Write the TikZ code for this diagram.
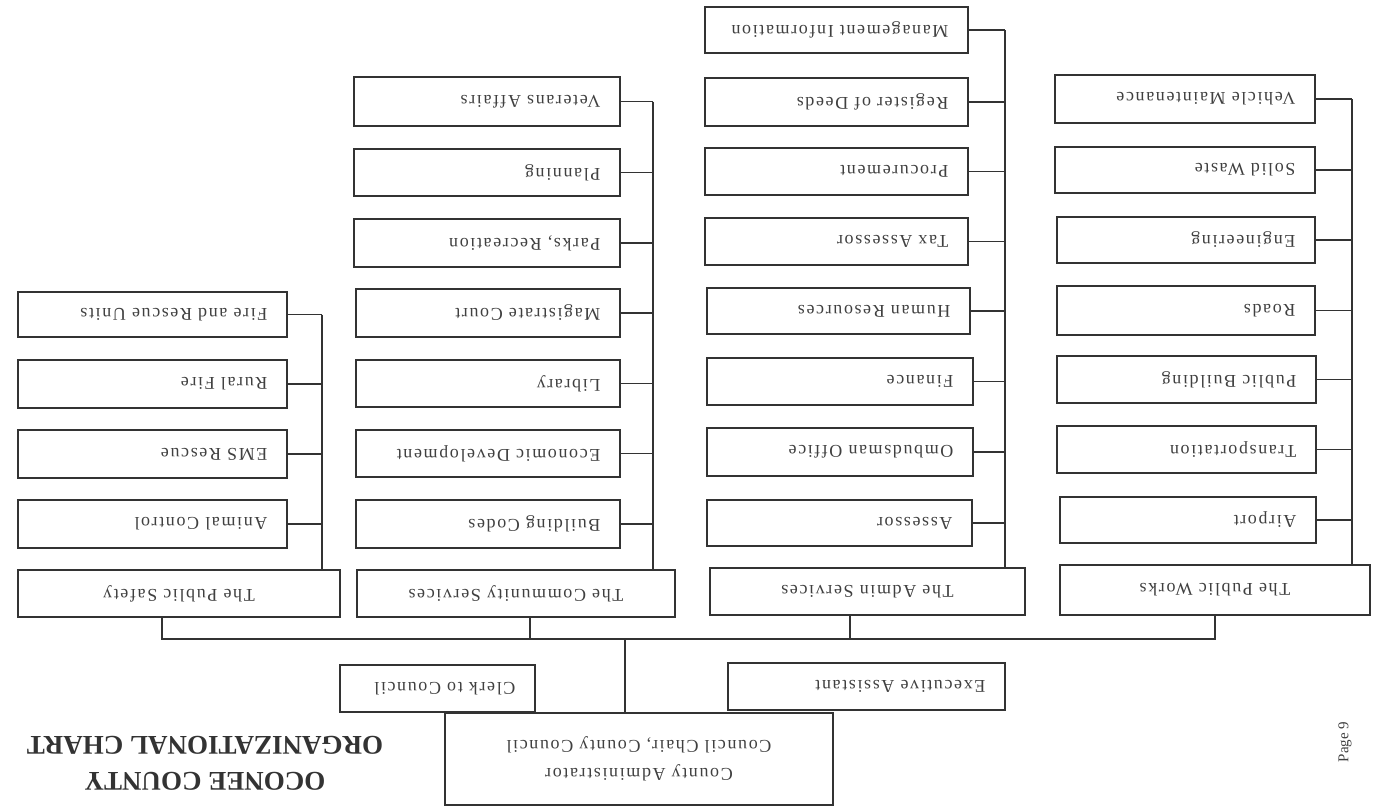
\documentclass[tikz,border=0pt]{standalone}
\usepackage{fontspec}
\setmainfont{Liberation Serif}
\newfontfamily\spaced[LetterSpace=9]{Liberation Serif}
\begin{document}
\begin{tikzpicture}[x=1pt,y=-1pt,
  box/.style={draw=black!80, line width=1.3pt, fill=white, inner sep=0pt},
  lbl/.style={rotate=180, font=\spaced\fontsize{18}{20}\selectfont, text=black!75, inner sep=0pt},
  wire/.style={draw=black!80, line width=1.2pt}]
\useasboundingbox (0,0) rectangle (1377,811);
% helper: child box with right-aligned (rotated) label
\newcommand{\cbx}[6]{%
  \node[box, minimum width={#4-#2}, minimum height={#5-#3}] (#1) at ({(#2+#4)/2},{(#3+#5)/2}) {};
  \node[lbl, anchor=west] (#1t) at ([xshift=-20pt]#1.east) {#6};}
\newcommand{\dbx}[6]{%
  \node[box, minimum width={#4-#2}, minimum height={#5-#3}] (#1) at ({(#2+#4)/2},{(#3+#5)/2}) {};
  \node[lbl] (#1t) at (#1.center) {#6};}

% ---- column A
\cbx{a1}{18}{292}{287}{337}{Fire and Rescue Units}
\cbx{a2}{18}{360}{287}{408}{Rural Fire}
\cbx{a3}{18}{430}{287}{478}{EMS Rescue}
\cbx{a4}{18}{500}{287}{548}{Animal Control}
\dbx{da}{18}{570}{340}{617}{The Public Safety}
% ---- column B
\cbx{b1}{354}{77}{620}{126}{Veterans Affairs}
\cbx{b2}{354}{149}{620}{196}{Planning}
\cbx{b3}{354}{219}{620}{267}{Parks, Recreation}
\cbx{b4}{356}{289}{620}{337}{Magistrate Court}
\cbx{b5}{356}{360}{620}{407}{Library}
\cbx{b6}{356}{430}{620}{477}{Economic Development}
\cbx{b7}{356}{500}{620}{548}{Building Codes}
\dbx{db}{357}{570}{675}{617}{The Community Services}
% ---- column C
\cbx{c1}{705}{7}{968}{53}{Management Information}
\cbx{c2}{705}{78}{968}{126}{Register of Deeds}
\cbx{c3}{705}{148}{968}{195}{Procurement}
\cbx{c4}{705}{218}{968}{265}{Tax Assessor}
\cbx{c5}{707}{288}{970}{334}{Human Resources}
\cbx{c6}{707}{358}{973}{405}{Finance}
\cbx{c7}{707}{428}{973}{476}{Ombudsman Office}
\cbx{c8}{707}{500}{972}{546}{Assessor}
\dbx{dc}{710}{568}{1025}{615}{The Admin Services}
% ---- column D
\cbx{d1}{1055}{75}{1315}{123}{Vehicle Maintenance}
\cbx{d2}{1055}{147}{1315}{193}{Solid Waste}
\cbx{d3}{1057}{217}{1315}{263}{Engineering}
\cbx{d4}{1057}{286}{1315}{335}{Roads}
\cbx{d5}{1057}{356}{1316}{403}{Public Building}
\cbx{d6}{1057}{426}{1316}{473}{Transportation}
\cbx{d7}{1060}{497}{1316}{543}{Airport}
\dbx{dd}{1060}{565}{1370}{615}{The Public Works}

% ---- top
\node[box, minimum width=388, minimum height=92] (root) at (639,759) {};
\node[lbl, align=center, font=\spaced\fontsize{18}{28}\selectfont] (roott) at (root.center) {County Administrator\\Council Chair, County Council};
\cbx{s1}{340}{665}{535}{712}{Clerk to Council}
\cbx{s2}{728}{663}{1005}{710}{Executive Assistant}

% ---- buses
\coordinate (bA) at (322,0); \coordinate (bB) at (653,0);
\coordinate (bC) at (1005,0); \coordinate (bD) at (1352,0);
\foreach \n in {a1,a2,a3,a4} \draw[wire] (\n.east) -- (\n.east -| bA);
\draw[wire] (a1.east -| bA) -- (bA |- da.north);
\foreach \n in {b1,b2,b3,b4,b5,b6,b7} \draw[wire] (\n.east) -- (\n.east -| bB);
\draw[wire] (b1.east -| bB) -- (bB |- db.north);
\foreach \n in {c1,c2,c3,c4,c5,c6,c7,c8} \draw[wire] (\n.east) -- (\n.east -| bC);
\draw[wire] (c1.east -| bC) -- (bC |- dc.north);
\foreach \n in {d1,d2,d3,d4,d5,d6,d7} \draw[wire] (\n.east) -- (\n.east -| bD);
\draw[wire] (d1.east -| bD) -- (bD |- dd.north);

\coordinate (hy) at (0,639);
\draw[wire] (162,617) coordinate (pA) -- (pA |- hy) -- (1215,639) coordinate (pD) -- (pD |- dd.south);
\draw[wire] (530,617) coordinate (pB) -- (pB |- hy);
\draw[wire] (850,615) coordinate (pC) -- (pC |- hy);
\draw[wire] (625,639) coordinate (pR) -- (pR |- root.north);

% ---- title and page
\node[rotate=180, align=center, font=\bfseries\fontsize{27}{36}\selectfont, text=black!80] (title) at (205,763) {OCONEE COUNTY\\ORGANIZATIONAL CHART};
\node[rotate=90, font=\fontsize{15}{17}\selectfont, text=black!75] (page) at (1345,742) {Page 9};
\end{tikzpicture}
\end{document}
